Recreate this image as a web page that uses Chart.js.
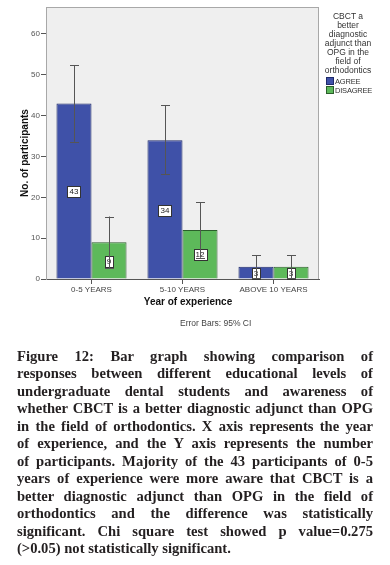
<!DOCTYPE html>
<html>
<head>
<meta charset="utf-8">
<script src="https://cdn.jsdelivr.net/npm/chart.js@4.4.1/dist/chart.umd.min.js"></script>
<style>
  body { margin: 0; background: #fff; width: 390px; height: 565px; overflow: hidden; }
  #wrap { position: relative; width: 390px; height: 335px; }
  #legend {
    position: absolute; left: 319px; top: 12px; width: 58px;
    font: 8.5px "Liberation Sans", Arial, sans-serif; color: #333;
    line-height: 9px; text-align: center;
  }
  #legend .item { text-align: left; margin-left: 7px; height: 9px; white-space: nowrap; font-size: 7.5px; letter-spacing: -0.2px; }
  #legend .sw { display: inline-block; width: 6px; height: 6px; margin-right: 1px; vertical-align: -1px; }
  #errnote {
    position: absolute; left: 180px; top: 318px;
    font: 8.5px "Liberation Sans", Arial, sans-serif; color: #444;
  }
  #caption {
    position: absolute; left: 17px; top: 348px; width: 356px;
    font: bold 14.6px "Liberation Serif", "Times New Roman", serif;
    line-height: 17.45px; color: #231f20; word-spacing: -1px;
  }
  #caption div { text-align: justify; text-align-last: justify; white-space: nowrap; }
  #caption div.last { text-align: left; text-align-last: left; word-spacing: 0; }
</style>
</head>
<body>
<div id="wrap">
  <canvas id="bars" width="390" height="335"></canvas>
  <div id="legend">
    CBCT a<br>better<br>diagnostic<br>adjunct than<br>OPG in the<br>field of<br>orthodontics
    <div style="height:2px"></div>
    <div class="item"><span class="sw" style="background:#3f51a8;border:1px solid #1f2a6a"></span>AGREE</div>
    <div class="item"><span class="sw" style="background:#5db95a;border:1px solid #2b5e2b"></span>DISAGREE</div>
  </div>
  <div id="errnote">Error Bars: 95% CI</div>
</div>
<div id="caption">
  <div>Figure 12: Bar graph showing comparison of</div>
  <div>responses between different educational levels of</div>
  <div>undergraduate dental students and awareness of</div>
  <div>whether CBCT is a better diagnostic adjunct than OPG</div>
  <div>in the field of orthodontics. X axis represents the year</div>
  <div>of experience, and the Y axis represents the number</div>
  <div>of participants. Majority of the 43 participants of 0-5</div>
  <div>years of experience were more aware that CBCT is a</div>
  <div>better diagnostic adjunct than OPG in the field of</div>
  <div>orthodontics and the difference was statistically</div>
  <div>significant. Chi square test showed p value=0.275</div>
  <div class="last">(&gt;0.05) not statistically significant.</div>
</div>
<script>
const categories = ['0-5 YEARS', '5-10 YEARS', 'ABOVE 10 YEARS'];
const agree = [43, 34, 3];
const disagree = [9, 12, 3];
// 95% CI [low, high]
const agreeCI = [[33.6, 52.4], [25.7, 42.6], [0.2, 5.8]];
const disagreeCI = [[2.7, 15.3], [5.2, 18.8], [0.2, 5.8]];
const yTicks = [0, 10, 20, 30, 40, 50, 60];

const tickFont = { family: '"Liberation Sans", Arial, sans-serif', size: 8 };

// grey plot panel with frame
const panel = {
  id: 'panel',
  beforeDraw(chart) {
    const { ctx, chartArea: a } = chart;
    ctx.save();
    ctx.fillStyle = '#efefef';
    ctx.fillRect(a.left, a.top, a.right - a.left, a.bottom - a.top);
    ctx.strokeStyle = '#a8a8a8';
    ctx.lineWidth = 1;
    ctx.strokeRect(a.left + 0.5, a.top + 0.5, a.right - a.left - 1, a.bottom - a.top);
    ctx.restore();
  },
  afterDraw(chart) {
    const ctx = chart.ctx;
    ctx.save();
    ctx.fillStyle = '#111';
    ctx.font = 'bold 10px "Liberation Sans", Arial, sans-serif';
    ctx.textAlign = 'center';
    ctx.textBaseline = 'middle';
    ctx.fillText('Year of experience', 188, 302);
    ctx.translate(25, 153);
    ctx.rotate(-Math.PI / 2);
    ctx.fillText('No. of participants', 0, 0);
    ctx.restore();
  }
};

// value boxes and error bars
const barExtras = {
  id: 'barExtras',
  afterDatasetsDraw(chart) {
    const ctx = chart.ctx;
    const y = chart.scales.y;
    const cis = [agreeCI, disagreeCI];
    ctx.save();
    ctx.font = '8px "Liberation Sans", Arial, sans-serif';
    ctx.textAlign = 'center';
    ctx.textBaseline = 'middle';
    chart.data.datasets.forEach((ds, i) => {
      chart.getDatasetMeta(i).data.forEach((bar, j) => {
        const v = ds.data[j];
        const cy = Math.round(y.getPixelForValue(v / 2));
        const txt = String(v);
        const w = Math.round(ctx.measureText(txt).width) + 4;
        const h = 11;
        const bx = Math.round(bar.x - w / 2) + 0.5;
        const by = cy - Math.floor(h / 2) + 0.5;
        ctx.fillStyle = '#fff';
        ctx.fillRect(bx, by, w, h);
        ctx.strokeStyle = '#333';
        ctx.lineWidth = 1;
        ctx.strokeRect(bx, by, w, h);
        ctx.fillStyle = '#222';
        ctx.fillText(txt, bar.x, cy + 1);
      });
    });
    ctx.strokeStyle = '#555';
    ctx.lineWidth = 1;
    chart.data.datasets.forEach((ds, i) => {
      chart.getDatasetMeta(i).data.forEach((bar, j) => {
        const lo = y.getPixelForValue(cis[i][j][0]);
        const hi = y.getPixelForValue(cis[i][j][1]);
        const x = Math.round(bar.x) + 0.5;
        ctx.beginPath();
        ctx.moveTo(x, lo); ctx.lineTo(x, hi);
        ctx.moveTo(x - 4.5, Math.round(hi) + 0.5); ctx.lineTo(x + 4.5, Math.round(hi) + 0.5);
        ctx.moveTo(x - 4.5, Math.round(lo) + 0.5); ctx.lineTo(x + 4.5, Math.round(lo) + 0.5);
        ctx.stroke();
      });
    });
    ctx.restore();
  }
};

new Chart(document.getElementById('bars'), {
  type: 'bar',
  data: {
    labels: categories,
    datasets: [
      {
        label: 'AGREE',
        data: agree,
        backgroundColor: '#3f51a8',
        borderColor: '#1f2a6a',
        borderWidth: 1
      },
      {
        label: 'DISAGREE',
        data: disagree,
        backgroundColor: '#5db95a',
        borderColor: '#2b5e2b',
        borderWidth: 1
      }
    ]
  },
  options: {
    responsive: false,
    animation: false,
    categoryPercentage: 0.77,
    barPercentage: 1,
    layout: { padding: { left: 0, top: 7, right: 71, bottom: 0 } },
    plugins: {
      legend: { display: false },
      tooltip: { enabled: false }
    },
    scales: {
      x: {
        afterFit: (s) => { s.height = 56; },
        grid: { offset: false, drawOnChartArea: false, tickLength: 5, color: '#555' },
        border: { color: '#555' },
        ticks: { font: tickFont, color: '#444', padding: 1, maxRotation: 0 }
      },
      y: {
        min: 0,
        max: 66.6,
        afterFit: (s) => { s.width = 46; },
        afterBuildTicks: (s) => { s.ticks = yTicks.map((v) => ({ value: v })); },
        grid: { drawOnChartArea: false, tickLength: 5, color: '#555' },
        border: { color: '#a8a8a8' },
        ticks: { font: tickFont, color: '#555', padding: 1 }
      }
    }
  },
  plugins: [panel, barExtras]
});
</script>
</body>
</html>
